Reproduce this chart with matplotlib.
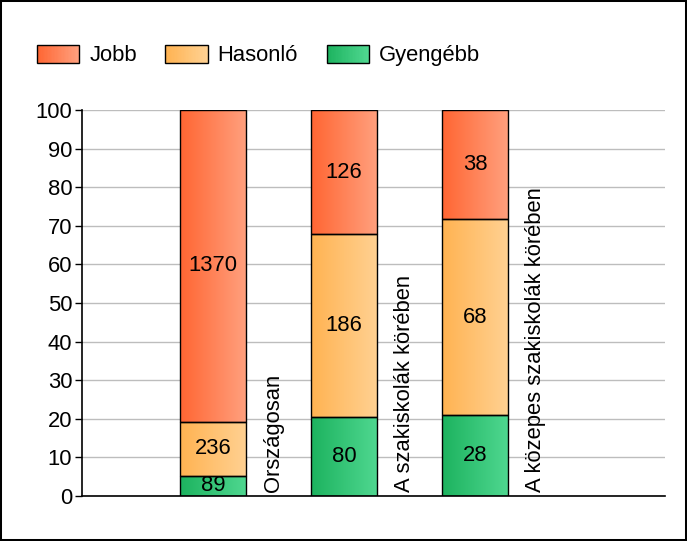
import numpy as np
import matplotlib
matplotlib.use("Agg")
import matplotlib.pyplot as plt
from matplotlib.patches import Rectangle
from matplotlib.colors import LinearSegmentedColormap
from matplotlib.legend_handler import HandlerBase

plt.rcParams['font.family'] = ['Liberation Sans', 'DejaVu Sans']

categories = ["Országosan", "A szakiskolák körében", "A közepes szakiskolák körében"]
series_names = ["Gyengébb", "Hasonló", "Jobb"]
counts = {
    "Gyengébb": [89, 80, 28],
    "Hasonló": [236, 186, 68],
    "Jobb": [1370, 126, 38],
}
# left (dark) -> right (light) gradient colours
grad_colors = {
    "Jobb": ("#ff6633", "#ffa07e"),
    "Hasonló": ("#ffb352", "#ffd192"),
    "Gyengébb": ("#1db35f", "#4fd790"),
}
yticks = list(range(0, 101, 10))
FS = 15.8


class GradHandler(HandlerBase):
    def __init__(self, c0, c1):
        super().__init__()
        self.cmap = LinearSegmentedColormap.from_list("g", [c0, c1])

    def create_artists(self, legend, orig_handle, xdescent, ydescent,
                       width, height, fontsize, trans):
        arts = []
        n = 30
        x0, y0 = -xdescent, -ydescent
        for i in range(n):
            r = Rectangle((x0 + width * i / n, y0), width / n + 0.3, height,
                          facecolor=self.cmap(i / (n - 1)), edgecolor='none',
                          transform=trans)
            arts.append(r)
        arts.append(Rectangle((x0, y0), width, height, facecolor='none',
                              edgecolor='black', lw=1.0, transform=trans))
        return arts


fig = plt.figure(figsize=(6.87, 5.41), dpi=100)
ax = fig.add_axes([82 / 687, 1 - 496 / 541, (665 - 82) / 687, (496 - 110) / 541])

x = np.arange(1, len(categories) + 1)
totals = np.sum([counts[s] for s in series_names], axis=0)
bottom = np.zeros(len(categories))
width = 0.505
for s in series_names:
    vals = np.array(counts[s], dtype=float)
    pct = vals / totals * 100
    cmap = LinearSegmentedColormap.from_list(s, grad_colors[s])
    bars = ax.bar(x, pct, width, bottom=bottom, facecolor='none',
                  edgecolor='black', linewidth=1.0, zorder=3)
    for b, v in zip(bars, counts[s]):
        bx, by = b.get_x(), b.get_y()
        bw, bh = b.get_width(), b.get_height()
        ax.imshow(np.linspace(0, 1, 64).reshape(1, -1), cmap=cmap,
                  extent=(bx, bx + bw, by, by + bh), aspect='auto',
                  zorder=2, interpolation='bilinear')
        ax.text(bx + bw / 2, by + bh / 2, str(v), ha='center', va='center',
                fontsize=FS, zorder=4)
    bottom += pct

for xi, c in zip(x, categories):
    ax.text(xi + 0.46, 1.0, c, rotation=90, ha='center', va='bottom',
            fontsize=FS, zorder=4)

ax.set_xlim(0, 583 / 131)
ax.set_ylim(0, 100)
ax.set_yticks(yticks)
ax.set_xticks([])
ax.tick_params(axis='y', labelsize=FS, length=5, width=1, pad=2)
ax.yaxis.grid(True, color='#bdbdbd', linewidth=1, zorder=0)
ax.set_axisbelow(True)
ax.spines['top'].set_visible(False)
ax.spines['right'].set_visible(False)
ax.spines['left'].set_linewidth(1.2)
ax.spines['bottom'].set_linewidth(1.2)

legend_order = ["Jobb", "Hasonló", "Gyengébb"]
handles = [Rectangle((0, 0), 1, 1) for _ in legend_order]
fig.legend(handles, legend_order, ncol=3, frameon=False,
           loc='upper left', bbox_to_anchor=(37 / 687, 1 - 45 / 541),
           borderpad=0, borderaxespad=0, handlelength=1.92, handleheight=0.87,
           handletextpad=0.46, columnspacing=1.3, fontsize=FS,
           handler_map={h: GradHandler(*grad_colors[n]) for h, n in zip(handles, legend_order)})

fig.patches.append(Rectangle((0, 0), 1, 1, transform=fig.transFigure,
                             fill=False, edgecolor='black', linewidth=2.9))

fig.savefig("out.png", dpi=100)
